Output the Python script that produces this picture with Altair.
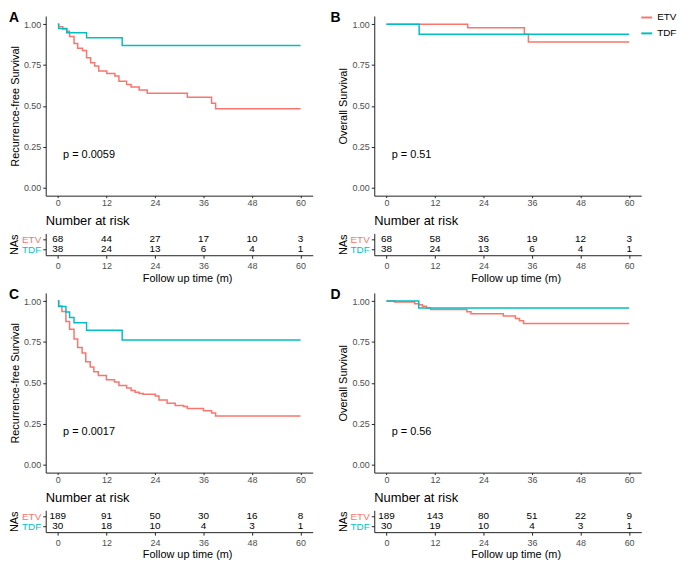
import altair as alt
import pandas as pd

FONT = "Liberation Sans"
GROUPS = ["ETV", "TDF"]
COLORS = ["#F8766D", "#00BFC4"]
RISK_TIMES = [0, 12, 24, 36, 48, 60]
Y_TICKS = [0, 0.25, 0.5, 0.75, 1.0]

# ---- Panel A (recurrence-free survival, cohort 1) ----
A_ETV_T = [0, 0.2, 1.2, 2.2, 2.9, 4.0, 4.9, 6.1, 7.1, 8.1, 9.1, 10.1, 12.1, 14.1, 15.1,
           17.0, 18.1, 20.1, 22.1, 32.0, 38.0, 39.0, 60]
A_ETV_S = [1.0, 0.985, 0.971, 0.956, 0.925, 0.881, 0.853, 0.839, 0.794, 0.764, 0.744,
           0.714, 0.698, 0.683, 0.651, 0.631, 0.615, 0.597, 0.577, 0.552, 0.516, 0.482, 0.482]
A_TDF_T = [0, 0.2, 2.2, 7.1, 15.9, 60]
A_TDF_S = [1.0, 0.974, 0.947, 0.917, 0.869, 0.869]
A_RISK_ETV = [68, 44, 27, 17, 10, 3]
A_RISK_TDF = [38, 24, 13, 6, 4, 1]

# ---- Panel B (overall survival, cohort 1) ----
B_ETV_T = [0, 20.1, 34.1, 35.1, 60]
B_ETV_S = [1.0, 0.978, 0.939, 0.891, 0.891]
B_TDF_T = [0, 8.1, 60]
B_TDF_S = [1.0, 0.939, 0.939]
B_RISK_ETV = [68, 58, 36, 19, 12, 3]
B_RISK_TDF = [38, 24, 13, 6, 4, 1]

# ---- Panel C (recurrence-free survival, cohort 2) ----
C_ETV_T = [0, 0.2, 1.0, 2.0, 2.9, 4.0, 4.9, 6.0, 6.9, 8.0, 8.9, 10.0, 12.0, 14.0, 15.1,
           17.0, 18.1, 19.1, 20.1, 21.1, 24.1, 25.0, 27.0, 29.0, 31.1, 32.0, 36.0, 38.0,
           39.0, 60]
C_ETV_S = [1.0, 0.970, 0.936, 0.875, 0.827, 0.768, 0.716, 0.683, 0.629, 0.597, 0.567,
           0.544, 0.518, 0.504, 0.484, 0.468, 0.452, 0.442, 0.435, 0.429, 0.419, 0.395,
           0.375, 0.361, 0.355, 0.343, 0.329, 0.315, 0.296, 0.296]
C_TDF_T = [0, 0.2, 2.0, 2.9, 4.0, 7.1, 15.9, 60]
C_TDF_S = [1.0, 0.967, 0.933, 0.900, 0.867, 0.822, 0.762, 0.762]
C_RISK_ETV = [189, 91, 50, 30, 16, 8]
C_RISK_TDF = [30, 18, 10, 4, 3, 1]

# ---- Panel D (overall survival, cohort 2) ----
D_ETV_T = [0, 2.0, 7.0, 8.0, 8.9, 9.9, 10.9, 19.9, 20.9, 28.9, 31.9, 32.9, 33.9, 60]
D_ETV_S = [1.0, 0.995, 0.984, 0.978, 0.968, 0.958, 0.948, 0.935, 0.923, 0.909, 0.893,
           0.879, 0.863, 0.863]
D_TDF_T = [0, 8.0, 60]
D_TDF_S = [1.0, 0.958, 0.958]
D_RISK_ETV = [189, 143, 80, 51, 22, 9]
D_RISK_TDF = [30, 19, 10, 4, 3, 1]

P_TEXT = ["p = 0.0059", "p = 0.51", "p = 0.0017", "p = 0.56"]
LETTERS = ["A", "B", "C", "D"]
Y_TITLES = ["Recurrence-free Survival", "Overall Survival",
            "Recurrence-free Survival", "Overall Survival"]

# ---- layout ----
W, H, RH = 269, 181, 22
GAP_COL, GAP_ROW = 62, 38
X_DOMAIN = [-3, 63]
Y_DOMAIN = [-0.05, 1.05]

LEGEND = alt.Legend(orient="none", legendX=2 * W + GAP_COL - 1, legendY=-5, title=None,
                    symbolType="stroke", symbolSize=121, symbolStrokeWidth=2,
                    labelFontSize=10, labelFont=FONT, labelColor="black",
                    labelOffset=4, rowPadding=4, padding=0)


def km_panel(letter, letter_x, ytitle, ptext, etv_t, etv_s, tdf_t, tdf_s):
    df = pd.DataFrame({
        "time": etv_t + tdf_t,
        "surv": etv_s + tdf_s,
        "group": ["ETV"] * len(etv_t) + ["TDF"] * len(tdf_t),
    })
    lines = alt.Chart(df).mark_line(interpolate="step-after", strokeWidth=1.5).encode(
        x=alt.X("time:Q", scale=alt.Scale(domain=X_DOMAIN, nice=False, zero=False),
                axis=alt.Axis(values=RISK_TIMES, title=None, tickSize=2, labelPadding=1)),
        y=alt.Y("surv:Q", scale=alt.Scale(domain=Y_DOMAIN, nice=False, zero=False),
                axis=alt.Axis(values=Y_TICKS, format=".2f", title=ytitle,
                              tickSize=3, labelPadding=2, titlePadding=3)),
        color=alt.Color("group:N", scale=alt.Scale(domain=GROUPS, range=COLORS),
                        legend=LEGEND),
    )
    one = pd.DataFrame({"k": [0]})
    ptxt = alt.Chart(one).mark_text(text=ptext, align="left", baseline="middle",
                                    fontSize=11, font=FONT, color="black").encode(
        x=alt.datum(1.3), y=alt.datum(0.2))
    let = alt.Chart(one).mark_text(text=letter, align="left", baseline="middle",
                                   fontSize=14, fontWeight="bold", font=FONT,
                                   color="black").encode(
        x=alt.datum(letter_x), y=alt.datum(1.04))
    return alt.layer(lines, ptxt, let).properties(width=W, height=H)


def risk_panel(etv_n, tdf_n):
    df = pd.DataFrame({
        "time": RISK_TIMES * 2,
        "n": etv_n + tdf_n,
        "group": ["ETV"] * len(etv_n) + ["TDF"] * len(tdf_n),
    })
    title = alt.TitleParams("Number at risk", anchor="start", frame="group", fontSize=13,
                            fontWeight="normal", font=FONT, color="black", offset=5,
                            baseline="bottom", dy=13)
    return alt.Chart(df, title=title).mark_text(
        fontSize=10, font=FONT, color="black", baseline="middle").encode(
        x=alt.X("time:Q", scale=alt.Scale(domain=X_DOMAIN, nice=False, zero=False),
                axis=alt.Axis(values=RISK_TIMES, title="Follow up time (m)", tickSize=3,
                              labelPadding=3, titlePadding=2, titleX=W / 2 + 8)),
        y=alt.Y("group:N", scale=alt.Scale(domain=GROUPS, type="point", padding=0.6),
                axis=alt.Axis(title="NAs", labelFontSize=10, tickSize=3, labelPadding=2,
                              titlePadding=2,
                              labelColor={"condition": {"test": "datum.value === 'ETV'",
                                                        "value": COLORS[0]},
                                          "value": COLORS[1]})),
        text=alt.Text("n:Q", format="d"),
    ).properties(width=W, height=RH)


kmA = km_panel(LETTERS[0], -12.1, Y_TITLES[0], P_TEXT[0], A_ETV_T, A_ETV_S, A_TDF_T, A_TDF_S)
kmB = km_panel(LETTERS[1], -13.8, Y_TITLES[1], P_TEXT[1], B_ETV_T, B_ETV_S, B_TDF_T, B_TDF_S)
kmC = km_panel(LETTERS[2], -12.1, Y_TITLES[2], P_TEXT[2], C_ETV_T, C_ETV_S, C_TDF_T, C_TDF_S)
kmD = km_panel(LETTERS[3], -13.8, Y_TITLES[3], P_TEXT[3], D_ETV_T, D_ETV_S, D_TDF_T, D_TDF_S)
rA = risk_panel(A_RISK_ETV, A_RISK_TDF)
rB = risk_panel(B_RISK_ETV, B_RISK_TDF)
rC = risk_panel(C_RISK_ETV, C_RISK_TDF)
rD = risk_panel(D_RISK_ETV, D_RISK_TDF)

chart = alt.concat(
    kmA, kmB, rA, rB, kmC, kmD, rC, rD,
    columns=2, spacing={"row": GAP_ROW, "column": GAP_COL}, bounds="flush", align="each",
).properties(padding=0).configure_view(stroke=None).configure_axis(
    grid=False, domainColor="#222222", tickColor="#222222", domainWidth=1, tickWidth=1,
    labelFont=FONT, titleFont=FONT, labelFontSize=9, titleFontSize=11,
    labelColor="#4D4D4D", titleColor="black", titleFontWeight="normal",
)

chart.save("out.html", embed_options={"renderer": "svg", "actions": False})
